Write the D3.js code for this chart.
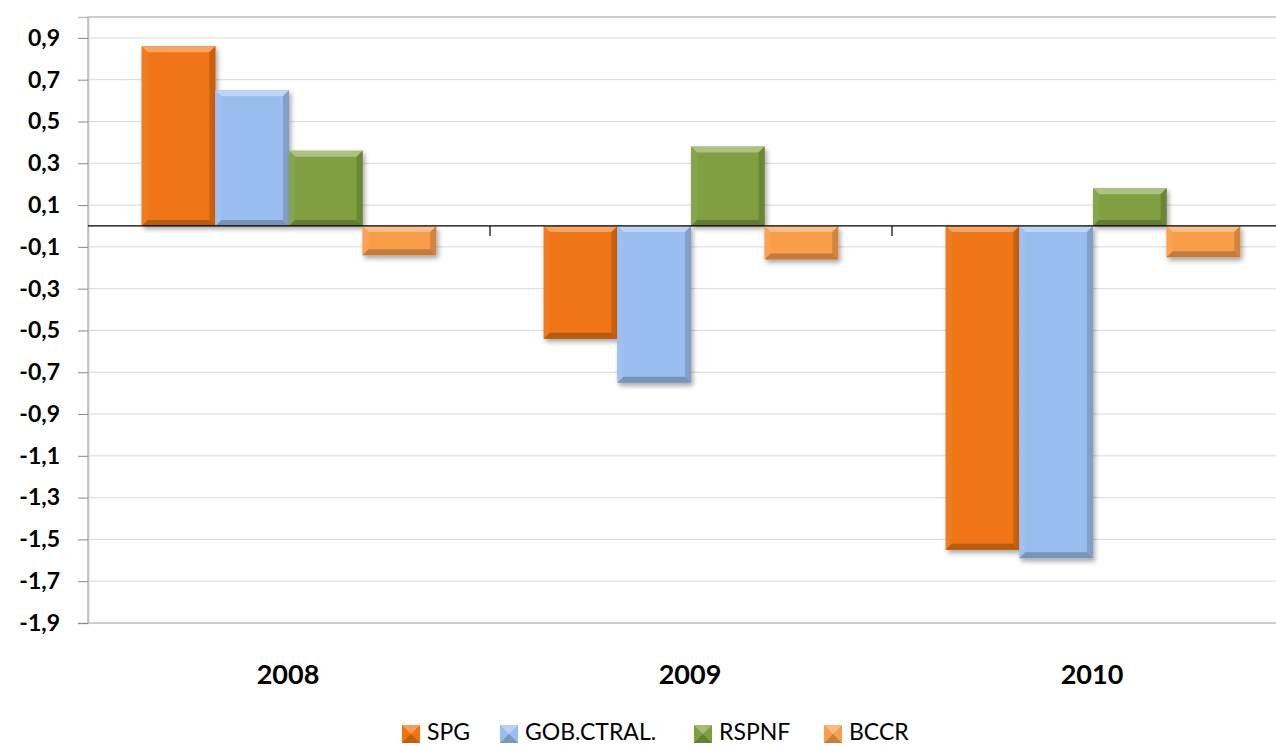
<!DOCTYPE html>
<html><head><meta charset="utf-8">
<script src="https://cdn.jsdelivr.net/npm/d3@7"></script>
<style>body{margin:0;background:#fff;overflow:hidden}</style>
</head><body>
<svg id="c" width="1276" height="746"></svg>
<script>
const categories = ["2008", "2009", "2010"];
const seriesNames = ["SPG", "GOB.CTRAL.", "RSPNF", "BCCR"];
const SPG = [0.86, -0.54, -1.55];
const GOB = [0.65, -0.75, -1.59];
const RSPNF = [0.36, 0.38, 0.18];
const BCCR = [-0.14, -0.16, -0.15];
const tickValues = [0.9, 0.7, 0.5, 0.3, 0.1, -0.1, -0.3, -0.5, -0.7, -0.9, -1.1, -1.3, -1.5, -1.7, -1.9];
const colors = ["#ef7412", "#99bdef", "#7f9f3f", "#fa9d4c"];

const seriesValues = [SPG, GOB, RSPNF, BCCR];
const svg = d3.select("#c");
const L = 88, R = 1294, T = 17, B = 623;
const font = "Lato, 'Open Sans', sans-serif";

const y = d3.scaleLinear().domain([-1.9, 1.0]).range([B, T]);
const x0 = d3.scaleBand().domain(categories).range([L, R]).paddingInner(0).paddingOuter(0);
const x1 = d3.scaleBand().domain(seriesNames).range([0, x0.bandwidth()]).paddingInner(0).paddingOuter(0.73);

const defs = svg.append("defs");
const f = defs.append("filter").attr("id", "sh").attr("x", "-20%").attr("y", "-20%").attr("width", "150%").attr("height", "150%");
f.append("feGaussianBlur").attr("in", "SourceAlpha").attr("stdDeviation", 2.5);
f.append("feOffset").attr("dx", 2).attr("dy", 3).attr("result", "b");
f.append("feComponentTransfer").append("feFuncA").attr("type", "linear").attr("slope", 0.35);
const m = f.append("feMerge"); m.append("feMergeNode"); m.append("feMergeNode").attr("in", "SourceGraphic");

// gridlines
svg.append("g").selectAll("line").data(tickValues.filter(v => v !== -1.9)).join("line")
  .attr("x1", L).attr("x2", R).attr("y1", d => y(d)).attr("y2", d => y(d))
  .attr("stroke", "#d9d9d9").attr("stroke-width", 1);

// plot border
svg.append("rect").attr("x", L).attr("y", T).attr("width", R - L).attr("height", B - T)
  .attr("fill", "none").attr("stroke", "#bfbfbf").attr("stroke-width", 1.5);

// y axis
const yAxis = d3.axisLeft(y).tickValues(tickValues).tickSize(10).tickPadding(18)
  .tickFormat(d => d3.format(".1f")(d).replace(".", ",").replace("−", "-"));
const ga = svg.append("g").attr("transform", `translate(${L},0)`).call(yAxis);
ga.select(".domain").attr("stroke", "#bfbfbf").attr("stroke-width", 1.5);
ga.selectAll(".tick line").attr("stroke", "#888");
ga.selectAll("text").attr("font-family", font).attr("font-weight", "bold").attr("font-size", 23).attr("fill", "#000");

// bars
const lighten = (c, k) => d3.interpolateRgb(c, "#fff")(k);
const darken = (c, k) => d3.interpolateRgb(c, "#000")(k);
const bev = 6;
seriesNames.forEach((s, si) => {
  const g = svg.append("g");
  categories.forEach((c, ci) => {
    const v = seriesValues[si][ci];
    const bx = x0(c) + x1(s);
    const bw = x1.bandwidth();
    const by = Math.min(y(v), y(0));
    const bh = Math.abs(y(v) - y(0));
    const col = colors[si];
    const bg = g.append("g").attr("filter", "url(#sh)");
    bg.append("rect").attr("x", bx).attr("y", by).attr("width", bw).attr("height", bh).attr("fill", col);
    const b = Math.min(bev, bh / 2.5);
    const x2 = bx + bw, y2 = by + bh;
    bg.append("polygon").attr("points", `${bx},${by} ${x2},${by} ${x2 - b},${by + b} ${bx + b},${by + b}`).attr("fill", lighten(col, 0.35));
    bg.append("polygon").attr("points", `${bx},${by} ${bx + b},${by + b} ${bx + b},${y2 - b} ${bx},${y2}`).attr("fill", lighten(col, 0.06));
    bg.append("polygon").attr("points", `${x2},${by} ${x2 - b},${by + b} ${x2 - b},${y2 - b} ${x2},${y2}`).attr("fill", darken(col, 0.16));
    bg.append("polygon").attr("points", `${bx},${y2} ${bx + b},${y2 - b} ${x2 - b},${y2 - b} ${x2},${y2}`).attr("fill", darken(col, 0.22));
  });
});

// category axis at zero
svg.append("line").attr("x1", L).attr("x2", R).attr("y1", y(0)).attr("y2", y(0)).attr("stroke", "#000").attr("stroke-width", 1.2);
svg.append("g").selectAll("line").data(categories.slice(1)).join("line")
  .attr("x1", d => x0(d)).attr("x2", d => x0(d)).attr("y1", y(0)).attr("y2", y(0) + 10)
  .attr("stroke", "#000").attr("stroke-width", 1.2);

// category labels
svg.append("g").selectAll("text").data(categories).join("text")
  .attr("x", d => x0(d) + x0.bandwidth() / 2 - 1).attr("y", 684)
  .attr("text-anchor", "middle").attr("font-family", font).attr("font-weight", "bold").attr("font-size", 27)
  .attr("fill", "#000").text(d => d);

// legend
const legX = [402, 500, 694, 824];
const lg = svg.append("g");
seriesNames.forEach((s, i) => {
  const col = colors[i];
  const gx = legX[i], gy = 725, sz = 18;
  lg.append("rect").attr("x", gx).attr("y", gy).attr("width", sz).attr("height", sz).attr("fill", col);
  lg.append("polygon").attr("points", `${gx},${gy} ${gx + sz},${gy} ${gx + sz / 2},${gy + sz / 2}`).attr("fill", lighten(col, 0.3));
  lg.append("polygon").attr("points", `${gx},${gy + sz} ${gx + sz},${gy + sz} ${gx + sz / 2},${gy + sz / 2}`).attr("fill", darken(col, 0.2));
  lg.append("text").attr("x", gx + sz + 7).attr("y", 740).attr("font-family", font).attr("font-size", 23)
    .attr("fill", "#000").text(s);
});
</script>
</body></html>
